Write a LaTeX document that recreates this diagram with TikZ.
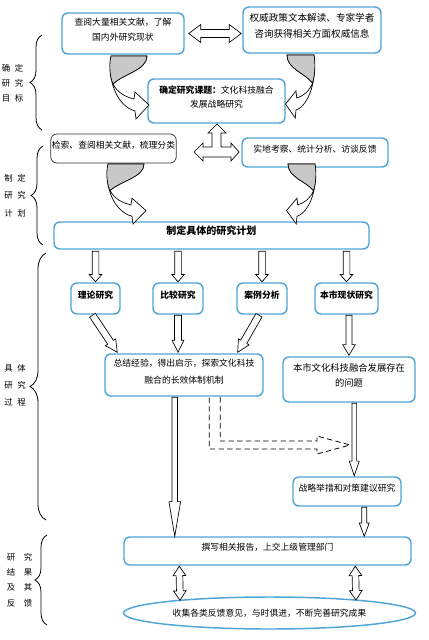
\documentclass[tikz,border=0pt]{standalone}
\usepackage{fontspec}
\setmainfont{Noto Sans CJK SC}
\usetikzlibrary{calc,fit,shapes.geometric,decorations.pathreplacing}
\definecolor{bblue}{RGB}{80,165,215}
\definecolor{fgray}{RGB}{200,200,200}
\newcommand{\topstrut}{\rule{0pt}{9.5pt}}
\tikzset{
  harrow/sw/.initial=2.5pt, harrow/hw/.initial=4.75pt, harrow/hl/.initial=6pt,
  hollow/.style={draw=black, line width=0.5pt, fill=white, to path={
    let \p1=(\tikztostart), \p2=(\tikztotarget),
      \n1={veclen(\x2-\x1,\y2-\y1)}, \n2={(\x2-\x1)/\n1}, \n3={(\y2-\y1)/\n1},
      \n4={\pgfkeysvalueof{/tikz/harrow/sw}}, \n5={\pgfkeysvalueof{/tikz/harrow/hw}}, \n6={\pgfkeysvalueof{/tikz/harrow/hl}}
    in
    ({\x1-(\n3)*\n4},{\y1+(\n2)*\n4})
    -- ({\x2-(\n2)*\n6-(\n3)*\n4},{\y2-(\n3)*\n6+(\n2)*\n4})
    -- ({\x2-(\n2)*\n6-(\n3)*\n5},{\y2-(\n3)*\n6+(\n2)*\n5})
    -- (\x2,\y2)
    -- ({\x2-(\n2)*\n6+(\n3)*\n5},{\y2-(\n3)*\n6-(\n2)*\n5})
    -- ({\x2-(\n2)*\n6+(\n3)*\n4},{\y2-(\n3)*\n6-(\n2)*\n4})
    -- ({\x1+(\n3)*\n4},{\y1-(\n2)*\n4})
    -- cycle}},
  hollow2/.style={draw=black, line width=0.5pt, fill=white, to path={
    let \p1=(\tikztostart), \p2=(\tikztotarget),
      \n1={veclen(\x2-\x1,\y2-\y1)}, \n2={(\x2-\x1)/\n1}, \n3={(\y2-\y1)/\n1},
      \n4={\pgfkeysvalueof{/tikz/harrow/sw}}, \n5={\pgfkeysvalueof{/tikz/harrow/hw}}, \n6={\pgfkeysvalueof{/tikz/harrow/hl}}
    in
    (\x1,\y1)
    -- ({\x1+(\n2)*\n6-(\n3)*\n5},{\y1+(\n3)*\n6+(\n2)*\n5})
    -- ({\x1+(\n2)*\n6-(\n3)*\n4},{\y1+(\n3)*\n6+(\n2)*\n4})
    -- ({\x2-(\n2)*\n6-(\n3)*\n4},{\y2-(\n3)*\n6+(\n2)*\n4})
    -- ({\x2-(\n2)*\n6-(\n3)*\n5},{\y2-(\n3)*\n6+(\n2)*\n5})
    -- (\x2,\y2)
    -- ({\x2-(\n2)*\n6+(\n3)*\n5},{\y2-(\n3)*\n6-(\n2)*\n5})
    -- ({\x2-(\n2)*\n6+(\n3)*\n4},{\y2-(\n3)*\n6-(\n2)*\n4})
    -- ({\x1+(\n2)*\n6+(\n3)*\n4},{\y1+(\n3)*\n6-(\n2)*\n4})
    -- ({\x1+(\n2)*\n6+(\n3)*\n5},{\y1+(\n3)*\n6-(\n2)*\n5})
    -- cycle}},
  box/.style={draw=bblue, line width=1.1pt, rounded corners=4.5pt, inner sep=0pt, fill=white,
    font=\fontsize{6.6}{11.5}\selectfont, align=left},
  dbox/.style={box, draw=black!80, line width=0.6pt},
  lbl/.style={inner sep=0pt, align=center},
  brc/.style={draw=black, line width=0.6pt, decorate},
  pics/curvarr/.style={code={
    \draw[line width=0.5pt, fill=white] (0,0) -- (36,0) .. controls (36,14) and (12,18) .. (2,28)
      .. controls (6,36) and (14,41) .. (23,43) -- (24,36) -- (38,49) -- (25,63) -- (24,55)
      .. controls (6,50) and (-4,24) .. (0,0) -- cycle;
    \draw[line width=0.5pt, fill=fgray] (0,0) -- (36,0) .. controls (36,14) and (12,18) .. (2,28)
      .. controls (-1.5,20) and (-2,8) .. (0,0) -- cycle;
  }}
}
\begin{document}
\begin{tikzpicture}[x=0.75pt,y=-0.75pt]
\useasboundingbox (0,0) rectangle (429,640);

% boxes
\node[box, fit={(62,13)(184,54)}] (A) {\topstrut 查阅大量相关文献，了解\\国内外研究现状};
\node[box, fit={(243,7)(381,53)}, font=\fontsize{7.2}{11.5}\selectfont] (B) {\topstrut 权威政策文本解读、专家学者\\咨询获得相关方面权威信息};
\node[box, fit={(148,79)(285,123)}, font=\fontsize{6.6}{11}\selectfont] (C) {\topstrut\textbf{确定研究课题：}文化科技融合\\发展战略研究};
\node[dbox, fit={(42,134)(185,163)}, text width=94pt] (D) {检索、查阅相关文献，梳理分类};
\node[box, fit={(242,138)(388,167)}, align=center] (E) {实地考察、统计分析、访谈反馈};
\node[box, fit={(54,222)(369,249)}, align=center, font=\fontsize{7.5}{9}\selectfont\bfseries] (F) {制定具体的研究计划};
\node[box, fit={(61,283)(130,314)}, text width=36.75pt, font=\fontsize{6.6}{9}\selectfont\bfseries] (G1) {理论研究};
\node[box, fit={(143,283)(213,314)}, text width=37.5pt, font=\fontsize{6.6}{9}\selectfont\bfseries] (G2) {比较研究};
\node[box, fit={(227,283)(297,314)}, text width=37.5pt, font=\fontsize{6.6}{9}\selectfont\bfseries] (G3) {案例分析};
\node[box, fit={(305,283)(388,314)}, text width=47.25pt, font=\fontsize{6.6}{9}\selectfont\bfseries] (G4) {本市现状研究};
\node[box, fit={(105,354)(263,396)}, font=\fontsize{6.6}{12.75}\selectfont] (H) {\topstrut 总结经验，得出启示，探索文化科技\\融合的长效体制机制};
\node[box, fit={(283,357)(415,402)}, font=\fontsize{7}{11.5}\selectfont] (I) {\topstrut 本市文化科技融合发展存在\\的问题};
\node[box, fit={(283,477)(411,506)}, text width=81pt] (K) {战略举措和对策建议研究};
\node[box, fit={(124,537)(411,565)}, align=center] (J) {撰写相关报告，上交上级管理部门};
\node[ellipse, draw=bblue, line width=1.1pt, fill=white, inner sep=0pt, minimum width=219pt, minimum height=24pt,
  font=\fontsize{6.6}{9}\selectfont] (L) at (269.5,613) {收集各类反馈意见，与时俱进，不断完善研究成果};

% left labels and braces
\node[lbl, font=\fontsize{6.3}{11.25}\selectfont] (t1) at (12.5,83) {确\hspace{3.5pt}定\\研\hspace{3.5pt}究\\目\hspace{3.5pt}标};
\node[lbl, font=\fontsize{6.3}{13}\selectfont] (t2) at (15,195.5) {制\hspace{3.5pt}定\\研\hspace{3.5pt}究\\计\hspace{3.5pt}划};
\node[lbl, font=\fontsize{6.3}{12.75}\selectfont] (t3) at (15,385) {具\hspace{3.5pt}体\\研\hspace{3.5pt}究\\过\hspace{3.5pt}程};
\node[lbl, font=\fontsize{6.3}{11.6}\selectfont] (t4) at (19.5,580) {研\hspace{6.5pt}究\\结\hspace{6.5pt}果\\及\hspace{6.5pt}其\\反\hspace{6.5pt}馈};
\draw[brc, decoration={brace, amplitude=9pt}] (42,130) -- (42,35);
\draw[brc, decoration={brace, amplitude=9pt}] (43,245) -- (43,146);
\draw[brc, decoration={brace, amplitude=12pt}] (46,520) -- (46,253);
\draw[brc, decoration={brace, amplitude=9pt}] (47,625) -- (47,535);

% curved arrows
\pic at (111,56) {curvarr};
\pic[xscale=-0.75] at (314,55) {curvarr};
\pic[yscale=0.95] at (108,164) {curvarr};
\pic[xscale=-0.75, yscale=0.95] at (315,164) {curvarr};

% A <-> B
\draw[hollow2, harrow/sw=3pt, harrow/hw=6.75pt, harrow/hl=9pt] ($(A.east)+(4,0)$) to ($(A.east -| B.west)+(-1,0)$);

% three-way arrow between D, E and C
\draw[line width=0.5pt, fill=white] (217,124) -- (226,133) -- (221,133) -- (221,147) -- (231,147) -- (231,143)
  -- (239,152) -- (231,161) -- (231,157) -- (203,157) -- (203,161) -- (194,152) -- (203,143) -- (203,147)
  -- (212,147) -- (212,133) -- (208,133) -- cycle;

% F -> G
\foreach \g in {G1,G2,G3,G4}
  \draw[hollow, harrow/sw=2.5pt, harrow/hw=4.75pt, harrow/hl=5.5pt] ($(F.south -| \g.north)+(0,1.5)$) to ($(\g.north)+(0,-0.5)$);

% G -> H, G4 -> I
\draw[hollow, harrow/sw=2.6pt, harrow/hw=4.6pt, harrow/hl=9pt] ($(G1.south)+(-3,0.5)$) to ($(H.north west)+(13,-1)$);
\draw[hollow, harrow/sw=2.6pt, harrow/hw=4.4pt, harrow/hl=9pt] ($(G2.south)+(0,0.5)$) to ($(G2.south |- H.north)+(0,-1)$);
\draw[hollow, harrow/sw=2.6pt, harrow/hw=4.6pt, harrow/hl=9pt] ($(G3.south)+(-3,0.5)$) to ($(H.north east)+(-26,-1)$);
\draw[hollow, harrow/sw=2.3pt, harrow/hw=4.75pt, harrow/hl=8pt] ($(G4.south -| I.north)+(0,0.5)$) to ($(I.north)+(0,-1)$);

% H -> J (long)
\coordinate (h1) at ($(H.south west)+(70.5,0.5)$);
\draw[hollow, harrow/sw=2.1pt, harrow/hw=4.4pt, harrow/hl=26pt] (h1) to (h1 |- J.north);

% I -> K -> J
\coordinate (i1) at ($(I.south west)+(72,0.5)$);
\draw[hollow, harrow/sw=1.75pt, harrow/hw=3.75pt, harrow/hl=11pt] (i1) to ($(i1 |- K.north)+(0,-0.5)$);
\coordinate (k1) at ($(K.south west)+(72,0.5)$);
\draw[hollow, harrow/sw=1.9pt, harrow/hw=3.75pt, harrow/hl=10pt] (k1) to (k1 |- J.north);

% dashed arrow from H towards I->K
\coordinate (d1) at ($(H.south west)+(116,0.5)$);
\coordinate (d2) at ($(H.south west)+(105,0.5)$);
\coordinate (dt) at (350,445);
\draw[line width=0.6pt, dash pattern=on 4pt off 2.5pt] (d1) -- (d1 |- 0,441) -- (317,441) -- (317,436) -- (dt)
  -- (317,454) -- (317,449) -- (d2 |- 0,449) -- (d2);

% J <-> L
\draw[hollow2, harrow/sw=2.5pt, harrow/hw=4.75pt, harrow/hl=7pt] ($(J.south west)+(56,0.5)$) to ($(L.center)+(-89.5,-12.8)$);
\draw[hollow2, harrow/sw=2.5pt, harrow/hw=4.75pt, harrow/hl=7pt] ($(J.south west)+(232,0.5)$) to ($(L.center)+(86.5,-13)$);
\end{tikzpicture}
\end{document}
